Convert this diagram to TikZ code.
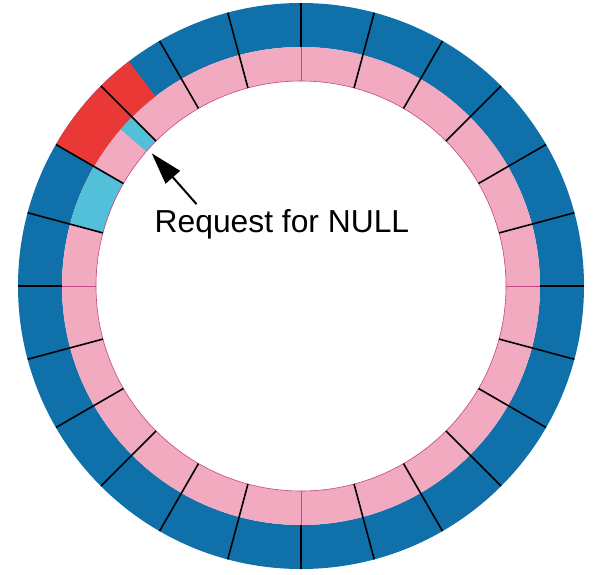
\documentclass[tikz,border=0pt]{standalone}
\usepackage{fontspec}
\setmainfont{Liberation Sans}
\usetikzlibrary{arrows.meta}
\definecolor{ringblue}{RGB}{16,112,170}
\definecolor{ringpink}{RGB}{241,170,192}
\definecolor{ringred}{RGB}{234,56,54}
\definecolor{ringcyan}{RGB}{82,192,216}
\definecolor{ringedge}{RGB}{196,72,132}
\newcommand{\ringpart}[5]{\fill[#1] (#2:#4pt) arc[start angle=#2,end angle=#3,radius=#4pt] -- (#3:#5pt) arc[start angle=#3,end angle=#2,radius=#5pt] -- cycle;}

\begin{document}
\begin{tikzpicture}[x=1pt,y=1pt,
  sep/.style={black,line width=1.6pt},
  sepin/.style={ringedge,line width=0.8pt},
  pointer/.style={-{Triangle[length=32pt,width=19pt]},line width=2pt,black}]
\useasboundingbox (-301,-288) rectangle (292,286);
\fill[ringblue,even odd rule] (0,0) circle[radius=283pt] circle[radius=239pt];
\fill[ringpink,even odd rule] (0,0) circle[radius=239pt] circle[radius=205pt];
\ringpart{ringred}{127.5}{150}{239}{283}
\ringpart{ringcyan}{135}{139}{205}{239}
\ringpart{ringcyan}{150}{165}{205}{239}
\draw[ringedge,line width=0.6pt] (0,0) circle[radius=205pt];
\foreach \a in {0,15,...,345}
  \draw[sep] (\a:239) -- (\a:283);
\foreach \q in {0,90,180,270} {
  \draw[sepin] (\q:205) -- (\q:239);
  \foreach \a in {15,30,45,60,75}
    \draw[sep] (\a+\q:205) -- (\a+\q:239);
}
\node[anchor=base west,inner sep=0,font=\fontsize{31.8}{32}\selectfont] (nulllabel) at (-146.5,53.7) {Request for NULL};
\coordinate (nulltip) at (-149.3,132.7);
\draw[pointer] ([xshift=42pt,yshift=5pt]nulllabel.north west) -- (nulltip);
\end{tikzpicture}
\end{document}
